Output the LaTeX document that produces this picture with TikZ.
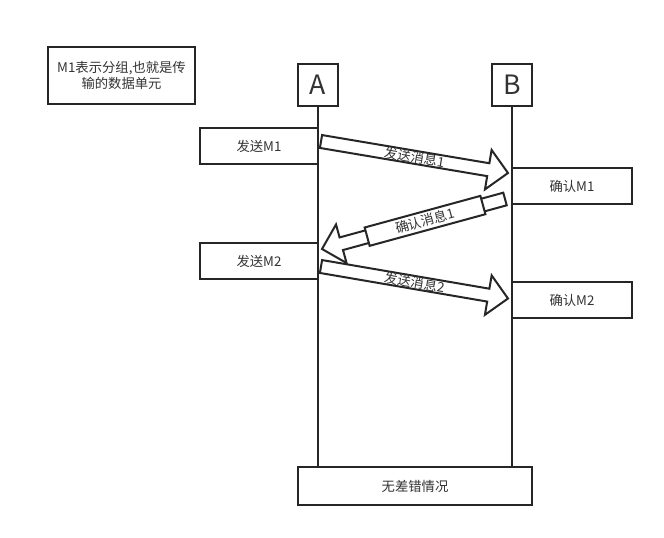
\documentclass[tikz,border=0pt]{standalone}
\usepackage{fontspec}
\setmainfont{Noto Sans CJK SC}
\usetikzlibrary{calc}

% block arrow from tail #1 to tip #2
\newcommand{\msgarrow}[2]{%
  \coordinate (#1h) at ($(#2)!15pt!(#1)$);
  \draw[blk] ($(#1)!4.9pt!90:(#2)$) -- ($(#1h)!4.9pt!90:(#2)$) -- ($(#1h)!15pt!90:(#2)$) -- (#2)
    -- ($(#1h)!15pt!-90:(#2)$) -- ($(#1h)!4.9pt!-90:(#2)$) -- ($(#1)!4.9pt!-90:(#2)$) -- cycle;
}

\begin{document}
\begin{tikzpicture}[
    x=0.75pt, y=-0.75pt,
    font=\fontsize{10}{11.5}\selectfont,
    text=black!80,
    line/.style={draw=black!85, line width=1.5pt},
    box/.style={line, fill=white, align=center, inner sep=2pt, minimum width=88.5pt, minimum height=27pt},
    hbox/.style={line, fill=white, minimum width=30pt, minimum height=31.5pt, font=\fontsize{20}{22}\selectfont},
    note/.style={box, minimum width=110.25pt, minimum height=42.75pt},
    blk/.style={line, fill=white, line join=miter},
    lbl/.style={sloped, inner sep=0pt},
    lblbox/.style={lbl, line, fill=white, minimum width=90pt, minimum height=14.25pt}
]
\useasboundingbox[fill=white] (0,0) rectangle (664,537);

% ------------------- NOTE -------------------
\node[note] (note) at (121.5,75.5) {M1表示分组,也就是传\\输的数据单元};

% ------------------- HOSTS + LIFELINES -------------------
\node[hbox] (A) at (318,85) {A};
\node[hbox] (B) at (512,85) {B};
\node[box, minimum width=175.5pt, minimum height=28.5pt] (sum) at (415,486) {无差错情况};

\draw[line] (A.south) -- (A.south |- sum.north);
\draw[line] (B.south) -- (B.south |- sum.north);

% ------------------- EVENTS -------------------
\node[box] (sm1) at (259,146) {发送M1};
\node[box, minimum width=90pt] (am1) at (572,186) {确认M1};
\node[box] (sm2) at (259,261) {发送M2};
\node[box, minimum width=90pt] (am2) at (572,300) {确认M2};

% ------------------- MESSAGES -------------------
\coordinate (t1) at (321,141.5);
\coordinate (p1) at (508,173);
\coordinate (t2) at (505,199);
\coordinate (p2) at (322,249);
\coordinate (t3) at (321,266.5);
\coordinate (p3) at (508,298.5);

\msgarrow{t1}{p1}
\msgarrow{t2}{p2}
\msgarrow{t3}{p3}

\path (t1) -- node[lbl] {发送消息1} (p1);
\path (t2) -- node[lblbox, pos=0.437] {确认消息1} (p2);
\path (t3) -- node[lbl] {发送消息2} (p3);

\end{tikzpicture}
\end{document}
